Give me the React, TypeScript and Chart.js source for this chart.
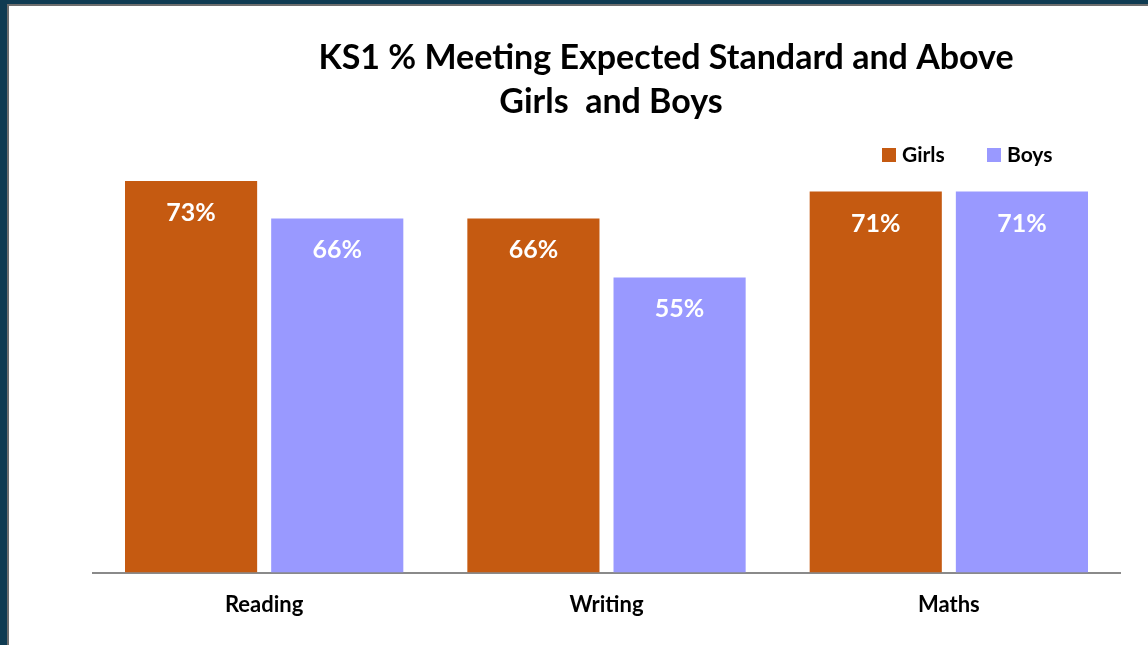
import React, { useEffect, useRef } from "react";
import { Chart, registerables } from "chart.js";

Chart.register(...registerables);

const categories = ["Reading", "Writing", "Maths"];
const seriesNames = ["Girls", "Boys"];
const girlsValues = [73, 66, 71];
const boysValues = [66, 55, 71];
const titleLines = ["KS1 % Meeting Expected Standard and Above", "Girls  and Boys"];

const GIRLS_COLOR = "#C55A11";
const BOYS_COLOR = "#9999FF";
const FONT = "Lato, 'Open Sans', sans-serif";

const overlayPlugin = {
  id: "overlay",
  afterDatasetsDraw(chart: any) {
    const ctx = chart.ctx;
    ctx.save();
    ctx.fillStyle = "#ffffff";
    ctx.font = `bold 25px ${FONT}`;
    ctx.textAlign = "center";
    ctx.textBaseline = "alphabetic";
    chart.data.datasets.forEach((ds: any, di: number) => {
      const meta = chart.getDatasetMeta(di);
      meta.data.forEach((bar: any, i: number) => {
        ctx.fillText(`${ds.data[i]}%`, bar.x, bar.y + 40);
      });
    });
    ctx.restore();
  },
  afterDraw(chart: any) {
    const ctx = chart.ctx;
    ctx.save();
    ctx.fillStyle = "#000000";
    ctx.textAlign = "center";
    ctx.textBaseline = "alphabetic";
    ctx.font = `bold 34px ${FONT}`;
    ctx.fillText(titleLines[0], 666, 69);
    ctx.fillText(titleLines[1], 611, 113);

    ctx.font = `bold 21px ${FONT}`;
    ctx.textAlign = "left";
    const items = [
      { name: seriesNames[0], color: GIRLS_COLOR, x: 882 },
      { name: seriesNames[1], color: BOYS_COLOR, x: 987 },
    ];
    items.forEach((it) => {
      ctx.fillStyle = it.color;
      ctx.fillRect(it.x, 148, 14, 14);
      ctx.fillStyle = "#000000";
      ctx.fillText(it.name, it.x + 20, 162);
    });
    ctx.restore();
  },
};

export default function App() {
  const canvasRef = useRef<HTMLCanvasElement | null>(null);

  useEffect(() => {
    if (!canvasRef.current) return;
    const chart = new Chart(canvasRef.current, {
      type: "bar",
      data: {
        labels: categories,
        datasets: [
          {
            label: seriesNames[0],
            data: girlsValues,
            backgroundColor: GIRLS_COLOR,
            categoryPercentage: 0.854,
            barPercentage: 0.904,
          },
          {
            label: seriesNames[1],
            data: boysValues,
            backgroundColor: BOYS_COLOR,
            categoryPercentage: 0.854,
            barPercentage: 0.904,
          },
        ],
      },
      options: {
        animation: false,
        responsive: false,
        devicePixelRatio: 1,
        layout: { padding: { left: 93, right: 28, top: 36, bottom: 8 } },
        plugins: {
          legend: { display: false },
          title: { display: false },
          tooltip: { enabled: false },
        },
        scales: {
          x: {
            grid: { display: true, drawOnChartArea: false, drawTicks: false },
            border: { display: true, color: "#8a8a8a", width: 2 },
            ticks: {
              color: "#000000",
              padding: 19,
              font: { family: FONT, size: 22, weight: "bold" },
            },
          },
          y: {
            display: false,
            min: 0,
            max: 100,
          },
        },
      },
      plugins: [overlayPlugin],
    });
    return () => chart.destroy();
  }, []);

  return (
    <div
      style={{
        position: "fixed",
        left: 0,
        top: 0,
        width: 1148,
        height: 645,
        background: "#0f3b52",
        overflow: "hidden",
      }}
    >
      <div
        style={{
          position: "absolute",
          left: 7,
          top: 4,
          right: 0,
          bottom: 0,
          background: "#ffffff",
          borderLeft: "2px solid #6e6e6e",
          borderTop: "2px solid #6e6e6e",
        }}
      />
      <canvas
        ref={canvasRef}
        width={1148}
        height={645}
        style={{ position: "absolute", left: 0, top: 0, width: 1148, height: 645 }}
      />
    </div>
  );
}
